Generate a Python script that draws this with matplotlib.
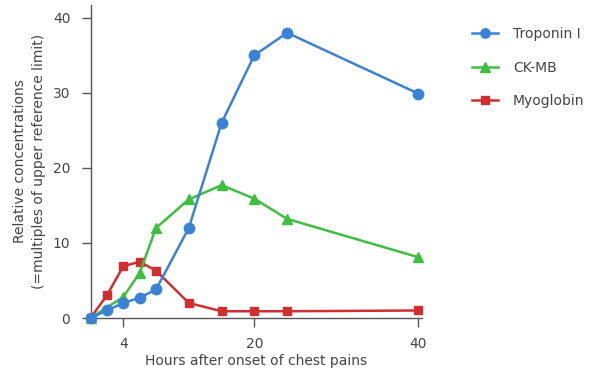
import matplotlib
matplotlib.use("Agg")
import matplotlib.pyplot as plt

hours = [0, 2, 4, 6, 8, 12, 16, 20, 24, 40]
troponin = [0, 1.0, 2.0, 2.7, 3.8, 12, 26, 35, 38, 29.9]
ckmb_hours = [0, 4, 6, 8, 12, 16, 20, 24, 40]
ckmb = [0, 2.8, 6.0, 12, 15.8, 17.7, 15.9, 13.2, 8.1]
myoglobin = [0, 3.0, 6.9, 7.5, 6.3, 2.0, 0.9, 0.9, 0.9, 1.0]

series_names = ["Troponin I", "CK-MB", "Myoglobin"]
colors = ["#3b82d6", "#3fbf3f", "#cf2f2f"]
xticks = [4, 20, 40]
yticks = [0, 10, 20, 30, 40]

text_color = "#444444"
spine_color = "#555555"
fs = 10

fig = plt.figure(figsize=(5.94, 3.71), dpi=100)
ax = fig.add_axes([90.5/594, 1-318/371, (421.5-90.5)/594, (318-5)/371])

ax.plot(hours, troponin, color=colors[0], marker="o", markersize=7.5, lw=1.8,
        label=series_names[0], clip_on=False, zorder=4)
ax.plot(ckmb_hours, ckmb, color=colors[1], marker="^", markersize=7.5, lw=1.8,
        label=series_names[1], clip_on=False, zorder=3)
ax.plot(hours, myoglobin, color=colors[2], marker="s", markersize=6, lw=1.8,
        label=series_names[2], clip_on=False, zorder=2)

ax.set_xlim(0, 40.4)
ax.set_ylim(0, 41.7)
ax.set_xticks(xticks)
ax.set_yticks(yticks)
for s in ["top", "right"]:
    ax.spines[s].set_visible(False)
for s in ["left", "bottom"]:
    ax.spines[s].set_color(spine_color)
    ax.spines[s].set_linewidth(1.0)
ax.tick_params(direction="out", length=6.5, width=1.0, color=spine_color,
               labelsize=fs, labelcolor=text_color)
ax.tick_params(axis="y", pad=8)
ax.tick_params(axis="x", pad=7)

ax.set_xlabel("Hours after onset of chest pains", fontsize=fs, color=text_color, labelpad=2)
ax.set_ylabel("Relative concentrations\n(=multiples of upper reference limit)",
              fontsize=fs, color=text_color, labelpad=5, linespacing=1.44)

leg = ax.legend(loc="upper left", bbox_to_anchor=(1.1526, 0.93), frameon=False,
                borderpad=0, borderaxespad=0,
                fontsize=fs, labelspacing=1.42, handlelength=1.87, handletextpad=1.08,
                labelcolor=text_color, markerscale=0.9)

fig.savefig("out.png", dpi=100)
